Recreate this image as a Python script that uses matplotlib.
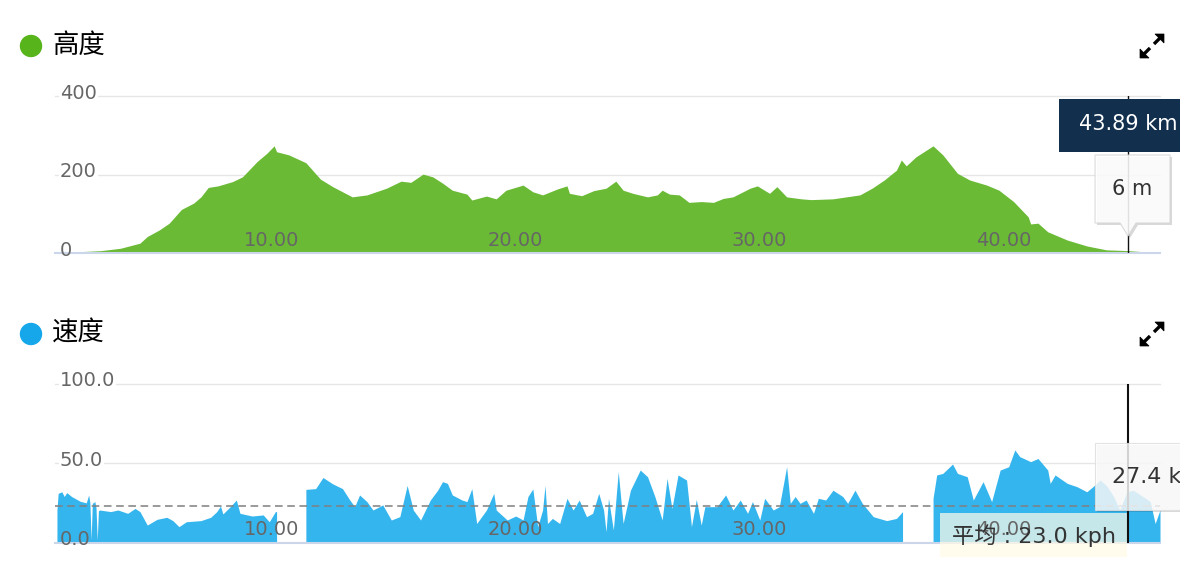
import numpy as np
import matplotlib
matplotlib.use("Agg")
import matplotlib.pyplot as plt
from matplotlib.patches import Rectangle, Polygon, Circle
from matplotlib.transforms import IdentityTransform

plt.rcParams['font.family'] = ['DejaVu Sans', 'Noto Sans CJK SC']

W, H = 1200, 570

# elevation profile (km, m)
elev_km = [0.0, 0.5, 1.8, 2.6, 3.4, 3.7, 4.2, 4.6, 5.1, 5.6, 5.9, 6.2, 6.6, 7.2, 7.6,
           8.2, 8.6, 8.9, 9.0, 9.5, 10.2, 10.8, 11.3, 12.1, 12.7, 13.5, 14.1, 14.5,
           15.0, 15.4, 15.8, 16.2, 16.8, 17.0, 17.6, 18.0, 18.4, 19.1, 19.5, 19.9,
           20.5, 20.9, 21.0, 21.5, 22.0, 22.5, 22.9, 23.2, 23.6, 24.2, 24.6, 24.8,
           25.1, 25.5, 25.9, 26.4, 26.9, 27.3, 27.7, 28.4, 28.7, 29.2, 29.5, 29.9,
           30.5, 30.9, 31.8, 32.9, 33.4, 33.9, 34.4, 34.6, 34.8, 35.2, 35.9, 36.3,
           36.9, 37.4, 38.1, 38.6, 39.2, 39.8, 39.9, 40.2, 40.6, 41.4, 42.2, 43.0,
           43.9, 44.8, 45.2]
elev_m = [2, 2, 6, 12, 25, 42, 59, 76, 111, 127, 143, 167, 171, 182, 194,
          233, 254, 273, 258, 250, 230, 188, 169, 143, 148, 165, 183, 180,
          201, 194, 178, 160, 150, 135, 145, 138, 160, 173, 156, 148,
          163, 171, 152, 146, 159, 165, 183, 160, 152, 143, 148, 160,
          150, 148, 129, 131, 129, 139, 143, 165, 171, 152, 169, 143,
          138, 136, 138, 148, 165, 186, 211, 237, 222, 245, 273, 250,
          203, 186, 173, 160, 131, 92, 74, 76, 54, 33, 18, 8,
          6, 2, 3]

# speed profile, three riding stretches separated by stops
ride1_km = [0.0, 0.05, 0.2, 0.3, 0.4, 0.6, 0.95, 1.2, 1.3, 1.35, 1.4, 1.45, 1.5, 1.55,
            1.6, 1.65, 1.7, 1.75, 2.2, 2.5, 2.9, 3.2, 3.4, 3.7, 4.1, 4.5, 4.75, 5.0,
            5.3, 5.9, 6.3, 6.55, 6.7, 6.8, 7.1, 7.35, 7.5, 8.0, 8.45, 8.7, 8.95, 9.0]
ride1_kph = [20.5, 31, 32, 29, 31.5, 29, 26, 25, 30, 25, 1.5, 25, 25, 26,
             22, 1.5, 20, 20.5, 19.5, 20.5, 18.4, 21.5, 19.5, 11, 14.6, 15.9, 13.8, 10,
             13.1, 13.8, 15.9, 19.5, 23, 18, 22.6, 26.8, 18.4, 16.7, 17.4, 13.1, 19.5, 19.5]

ride2_km = [10.2, 10.6, 10.9, 11.3, 11.7, 12.0, 12.2, 12.4, 12.7, 12.95,
            13.35, 13.7, 14.05, 14.35, 14.6, 14.9, 15.3, 15.6, 15.8, 16.0,
            16.2, 16.6, 16.8, 17.0, 17.2, 17.6, 17.9, 18.0, 18.45, 18.8,
            19.1, 19.3, 19.5, 19.7, 19.9, 20.0, 20.1, 20.3, 20.6, 20.9,
            21.15, 21.4, 21.7, 21.95, 22.2, 22.4, 22.5, 22.6, 22.8, 23.0,
            23.2, 23.5, 23.9, 24.2, 24.5, 24.8, 25.0, 25.2, 25.45, 25.8,
            26.0, 26.2, 26.4, 26.55, 27.05, 27.4, 27.7, 28.0, 28.3, 28.5,
            28.8, 29.0, 29.35, 29.6, 29.9, 30.05, 30.25, 30.45, 30.7, 31.0,
            31.2, 31.5, 31.8, 32.2, 32.4, 32.7, 33.0, 33.45, 34.0, 34.4, 34.65]
ride2_kph = [33.5, 34, 41, 37, 34, 26.8, 22.6, 30, 25.8, 20.5,
             23.7, 14.2, 16.3, 36, 20.5, 14.2, 26.8, 33, 38.4, 37.3,
             30, 26.8, 25.8, 34, 12, 20.5, 31, 20.5, 14.2, 16.7,
             14.2, 29, 33.8, 10, 20.5, 36, 12, 15.2, 12, 27.9,
             20.5, 26.8, 16.3, 18.4, 31, 20.5, 6.8, 27.9, 7.9, 44.7,
             12, 33, 45.7, 41.5, 29, 14.2, 40.5, 21.5, 42.6, 39.4,
             10, 27.2, 11, 22.6, 22.6, 30, 20.5, 26.8, 18.4, 25.8,
             14.2, 27.9, 20.5, 22.6, 47.8, 24.7, 29, 24.7, 26.8, 18.4,
             27.9, 26.8, 33, 29, 24.7, 33, 24.7, 16.3, 13.8, 15.2, 19.5]

ride3_km = [35.9, 36.05, 36.3, 36.7, 36.9, 37.3, 37.55, 37.95, 38.3, 38.65,
            39.0, 39.25, 39.45, 39.9, 40.2, 40.6, 40.7, 40.9, 41.4, 41.8,
            42.2, 42.45, 42.75, 43.0, 43.3, 43.55, 43.85, 44.1, 44.5, 44.8,
            45.0, 45.2]
ride3_kph = [27.9, 42.6, 43.6, 49.5, 43.6, 41.5, 26.8, 38.4, 25.8, 45.7,
             47.8, 58.4, 54.2, 51, 53, 45.7, 37.3, 42.6, 37.3, 35.2,
             32, 35.2, 39.4, 36, 29, 20.5, 32, 33, 29, 25.8,
             12, 20.5]

avg_speed = 23.0
cursor_km = 43.89
cursor_elev = 6
cursor_speed = 27.4

dist_ticks = [10, 20, 30, 40]
elev_ticks = [0, 200, 400]
speed_ticks = [0, 50, 100]

GREEN = '#6aba35'
BLUE = '#35b5ee'
GRID = '#e6e6e6'
BASE = '#ccd6eb'
LABEL = '#666666'


def px_rect(left, top, right, bottom):
    return [left / W, (H - bottom) / H, (right - left) / W, (bottom - top) / H]


fig = plt.figure(figsize=(W / 100, H / 100), dpi=100)
fig.patch.set_facecolor('white')

ax1 = fig.add_axes(px_rect(55, 96, 1160, 253))
ax2 = fig.add_axes(px_rect(55, 384, 1160, 542.5))


def setup_axis(ax, ticks, fmt, fill_x_list, fill_y_list, color):
    ax.set_xlim(-0.08, 45.2)
    ax.set_ylim(ticks[0], ticks[-1])
    ax.set_axis_off()
    for xs, ys in zip(fill_x_list, fill_y_list):
        ax.fill_between(xs, ys, 0, color=color, lw=0, zorder=2)
    for v in ticks[1:]:
        ax.axhline(v, color=GRID, lw=1.0, zorder=1, clip_on=False)
    ax.axhline(ticks[0], color=BASE, lw=1.5, zorder=3, clip_on=False)
    for v in ticks:
        box = dict(boxstyle='square,pad=0.05', fc='white', ec='none') if v else None
        ax.annotate(fmt.format(v), xy=(0, v), xycoords=('axes fraction', 'data'),
                    xytext=(5, 3), textcoords='offset pixels', ha='left', va='center',
                    fontsize=14, color=LABEL, bbox=box, zorder=4)
    for t in dist_ticks:
        ax.annotate(f'{t:.2f}', xy=(t, 0), xytext=(-2, 13), textcoords='offset pixels',
                    ha='right', va='center', fontsize=14, color=LABEL, zorder=5)


setup_axis(ax1, elev_ticks, '{}', [elev_km], [elev_m], GREEN)
setup_axis(ax2, speed_ticks, '{:.1f}', [ride1_km, ride2_km, ride3_km],
           [ride1_kph, ride2_kph, ride3_kph], BLUE)

ax2.axhline(avg_speed, color='#7f7f7f', lw=1.1, ls=(0, (5, 3)), zorder=3)

ax1.axvline(cursor_km, color='#111111', lw=1.0, zorder=6)
ax2.axvline(cursor_km, color='#111111', lw=1.5, zorder=6)

# average label box (display pixels)
ax2.add_patch(Rectangle((940, H - 557), 187, 44, transform=IdentityTransform(),
                        fc='#fffbe8', alpha=0.72, ec='none', zorder=4, clip_on=False))
ax2.text(952, H - 543, f'平均 : {avg_speed:.1f} kph', transform=IdentityTransform(),
         fontsize=16, color='#333333', ha='left', va='baseline', zorder=6)

# overlay in image pixel coordinates
ov = fig.add_axes(px_rect(0, 0, 1180, H))
ov.set_xlim(0, 1180)
ov.set_ylim(H, 0)
ov.set_axis_off()
ov.set_zorder(5)
ov.patch.set_alpha(0)

cx = ax1.transData.transform((cursor_km, 0))[0]


def expand_icon(ix, iy):
    for s in (1, -1):
        tx, ty = ix + s * 12, iy - s * 12
        ov.add_patch(Polygon([(tx, ty), (tx - s * 9, ty), (tx, ty + s * 9)],
                             fc='black', ec='black', lw=0.5))
        ov.plot([tx - s * 3, tx - s * 10], [ty + s * 3, ty + s * 10],
                color='black', lw=2.4, solid_capstyle='butt')


for y, title, dot in [(45, '高度', '#58b41b'), (333, '速度', '#16a7eb')]:
    ov.add_patch(Circle((31, y + 1), 10.5, color=dot))
    ov.text(52, y, title, fontsize=19, va='center', ha='left', color='black',
            family=['Noto Sans CJK SC'])
    expand_icon(1152, y + 1)

# distance tooltip
ov.add_patch(Rectangle((cx - 69, 99), 138, 53, fc='#12304e', ec='none', zorder=3))
ov.text(cx, 130, f'{cursor_km:.2f} km', color='white', fontsize=15, ha='center',
        va='baseline', clip_on=True, zorder=4)

# elevation tooltip with pointer
pts = [(cx - 33, 155), (cx + 42, 155), (cx + 42, 223), (cx + 8, 223), (cx, 236),
       (cx - 8, 223), (cx - 33, 223)]
ov.add_patch(Polygon([(x + 2, y + 2) for x, y in pts], fc='black', alpha=0.15,
                     ec='none', zorder=3))
ov.add_patch(Polygon(pts, fc='white', alpha=0.88, ec='#d6d6d6', lw=0.8, zorder=3))
ov.text(cx + 4, 195, f'{cursor_elev} m', color='#333333', fontsize=15, ha='center',
        va='baseline', zorder=4)

# speed tooltip
ov.add_patch(Rectangle((cx - 31, 445), 120, 67, fc='black', alpha=0.15, ec='none', zorder=3))
ov.add_patch(Rectangle((cx - 33, 443), 120, 67, fc='white', alpha=0.82, ec='#dddddd',
                       lw=0.8, zorder=3))
ov.text(cx - 16, 483, f'{cursor_speed:.1f} kph', color='#333333', fontsize=16,
        ha='left', va='baseline', clip_on=True, zorder=4)

fig.savefig('out.png', dpi=100)
